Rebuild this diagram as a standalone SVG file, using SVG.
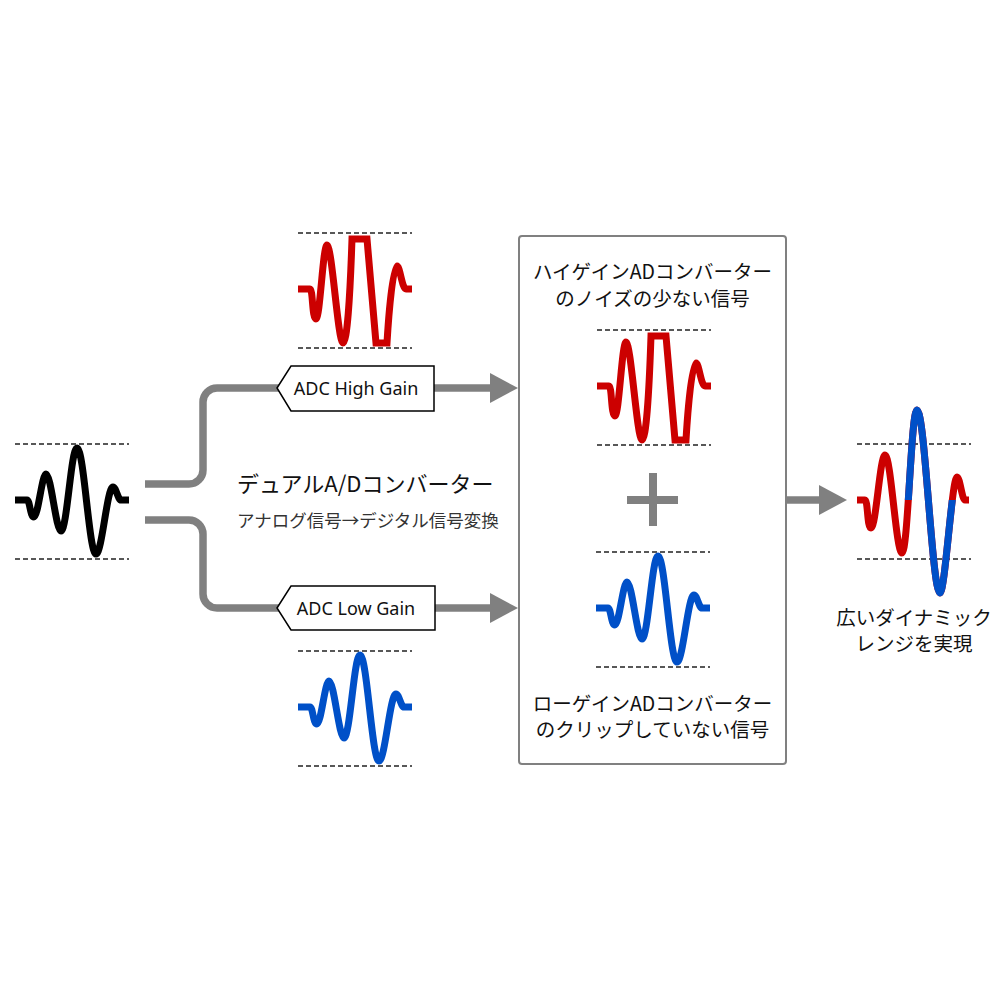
<svg xmlns="http://www.w3.org/2000/svg" width="1000" height="1000" viewBox="0 0 1000 1000">
<style>
.wave{fill:none;stroke-width:7;stroke-linecap:butt;stroke-linejoin:miter;stroke-miterlimit:10}
.k{stroke:#000}
.r{stroke:#cc0000}
.b{stroke:#0050c8}
.dash{stroke:#222;stroke-width:1.3;stroke-dasharray:5 3;fill:none}
.conn{fill:none;stroke:#808080;stroke-width:7.5}
.lbl{fill:#fff;stroke:#000;stroke-width:1.5}
.jp{font-family:"Noto Sans CJK JP","Noto Sans",sans-serif;fill:#111}
.en{font-family:"Noto Sans","Liberation Sans",sans-serif;font-size:18px;fill:#111}
</style>
<defs>
<path id="wave" d="M0,0 H12 C15,0 15,17 19,17 C23,17 27,-26 31,-26 C36,-26 41,31 46,31 C52,31 56,-52 62,-52 C69,-52 74,54 81,54 C87,54 92,-13 98,-13 C101,-13 103,0 106,0 H114"/>
<path id="waveRed" d="M0,0 H12 C15,0 14,30 18,30 C22,30 25,-44 29,-44 C34,-44 40,54 45,54 C49,54 52,10 54,-50 H69 L78,54 H89 C91,20 95,-23 99,-23 C102,-23 104,0 108,0 H114"/>
<path id="waveBig" d="M0,0 H8 C11,0 10,28 14,28 C19,28 23,-45 28,-45 C34,-45 39,53 45,53 C51,53 54,-90 60,-90 C68,-90 75,93 83,93 C88,93 95,-23 100,-23 C103,-23 105,0 108,0 H112"/>
<g id="dashes">
<line class="dash" x1="0" y1="-56" x2="114" y2="-56"/>
<line class="dash" x1="0" y1="59" x2="114" y2="59"/>
</g>
<marker id="arr" viewBox="0 0 28 30" refX="0" refY="15" markerWidth="28" markerHeight="30" markerUnits="userSpaceOnUse" orient="auto">
<path d="M0,0 L28,15 L0,30 Z" fill="#808080"/>
</marker>
<clipPath id="blueClip">
<rect x="903" y="380" width="43" height="120"/>
<rect x="912" y="500" width="46" height="120"/>
</clipPath>
</defs>

<g id="connectors">
<path class="conn" d="M145,484 H189 A14,14 0 0 0 203,470 V402 A14,14 0 0 1 217,388 H280"/>
<path class="conn" d="M145,520 H189 A14,14 0 0 1 203,534 V594 A14,14 0 0 0 217,608 H280"/>
<line class="conn" x1="434" y1="388" x2="490" y2="388" marker-end="url(#arr)"/>
<line class="conn" x1="435" y1="608" x2="490" y2="608" marker-end="url(#arr)"/>
<line class="conn" x1="786" y1="500" x2="819" y2="500" marker-end="url(#arr)"/>
</g>

<g id="input-signal" transform="translate(15,500)">
<use href="#dashes"/>
<use href="#wave" class="wave k"/>
</g>

<g id="high-gain-signal" transform="translate(298,289)">
<use href="#dashes"/>
<use href="#waveRed" class="wave r"/>
</g>

<g id="low-gain-signal" transform="translate(298,707)">
<use href="#dashes"/>
<use href="#wave" class="wave b"/>
</g>

<g id="adc-high">
<polygon class="lbl" points="277,388 291,366 434,366 434,411 291,411"/>
<text class="en" x="356" y="394.5" text-anchor="middle">ADC High Gain</text>
</g>

<g id="adc-low">
<polygon class="lbl" points="277,608 291,586 435,586 435,630 291,630"/>
<text class="en" x="356" y="614.5" text-anchor="middle">ADC Low Gain</text>
</g>

<g id="dual-adc-title">
<text class="jp" x="237" y="492" font-size="22">デュアルA/Dコンバーター</text>
<text class="jp" x="237" y="526.5" font-size="17.5" style="fill:#333">アナログ信号→デジタル信号変換</text>
</g>

<g id="combiner">
<rect x="519" y="236" width="267" height="528" rx="3" fill="#fff" stroke="#808080" stroke-width="2"/>
<text class="jp" x="652.5" y="278.5" font-size="19.5" text-anchor="middle">ハイゲインADコンバーター</text>
<text class="jp" x="652.5" y="305.5" font-size="19.5" text-anchor="middle">のノイズの少ない信号</text>
<g transform="translate(597,386)">
<use href="#dashes"/>
<use href="#waveRed" class="wave r"/>
</g>
<rect x="627" y="496" width="51" height="8" fill="#808080"/>
<rect x="649" y="473" width="8" height="53" fill="#808080"/>
<g transform="translate(596,608)">
<use href="#dashes"/>
<use href="#wave" class="wave b"/>
</g>
<text class="jp" x="652.5" y="710.5" font-size="19.5" text-anchor="middle">ローゲインADコンバーター</text>
<text class="jp" x="652.5" y="736.5" font-size="19.5" text-anchor="middle">のクリップしていない信号</text>
</g>

<g id="output-signal">
<g transform="translate(857,500)">
<use href="#dashes"/>
<use href="#waveBig" class="wave r"/>
</g>
<g clip-path="url(#blueClip)">
<use href="#waveBig" class="wave b" transform="translate(857,500)"/>
</g>
<text class="jp" x="914" y="624.5" font-size="19.5" text-anchor="middle">広いダイナミック</text>
<text class="jp" x="914" y="650.5" font-size="19.5" text-anchor="middle">レンジを実現</text>
</g>
</svg>
